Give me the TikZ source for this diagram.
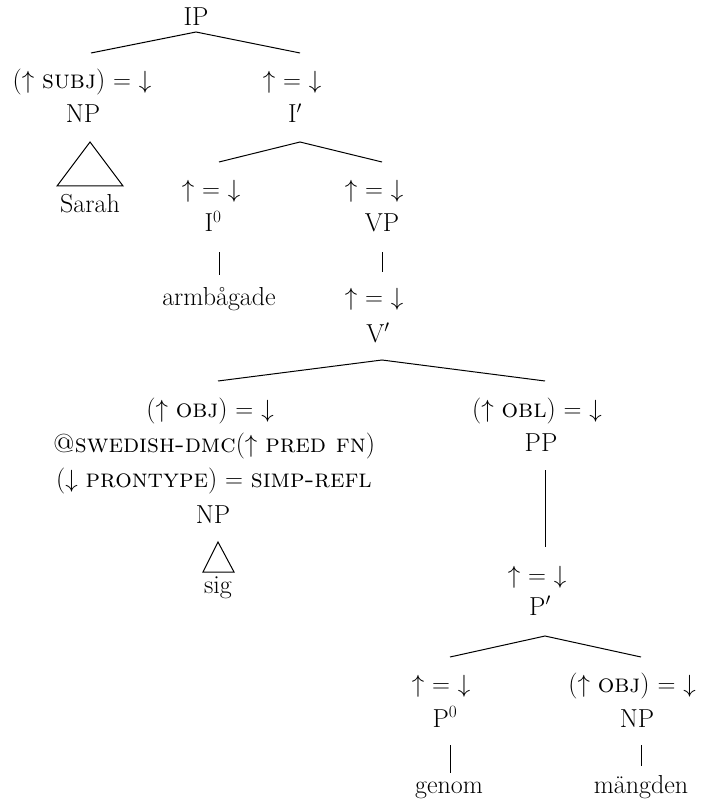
\documentclass[tikz,border=0pt]{standalone}
\tikzset{
  lbl/.style={anchor=base, inner sep=0pt, font=\fontsize{26}{30}\selectfont},
  edge/.style={line width=1pt},
  tri/.style={line width=1pt, line join=miter}
}
\newcommand{\ueqd}{\(\uparrow\) \(=\) \(\downarrow\)}
\begin{document}
\begin{tikzpicture}[x=1pt,y=-1pt]
\useasboundingbox (0,0) rectangle (701,802);
% top
\node[lbl] (IP) at (196,26) {IP};
\coordinate (IPb) at (196,32);
\coordinate (subjt) at (91,53);
\coordinate (ibart) at (300,53);
\node[lbl] (subj) at (82,89) {(\(\uparrow\)~\textsc{subj}) \(=\) \(\downarrow\)};
\node[lbl] (ibarann) at (292,89) {\ueqd};
\node[lbl] (NP1) at (83,123) {NP};
\node[lbl] (Ibar) at (295,123) {I\('\)};
\coordinate (tri1a) at (90,142);
\coordinate (tri1l) at (57,186);
\coordinate (tri1r) at (123,186);
\node[lbl] (Sarah) at (90,212) {Sarah};
% I'
\coordinate (Ibarb) at (300,142);
\coordinate (I0t) at (219,162);
\coordinate (VPt) at (382,162);
\node[lbl] (I0ann) at (211,198) {\ueqd};
\node[lbl] (VPann) at (374,198) {\ueqd};
\node[lbl] (I0) at (213,232) {I\(^{0}\)};
\node[lbl] (VP) at (382,232) {VP};
\coordinate (I0b) at (219,252);
\coordinate (armt) at (219,275);
\coordinate (VPb) at (382,252);
\coordinate (Vbart) at (382,272);
\node[lbl] (arm) at (219,305) {armbågade};
\node[lbl] (Vbarann) at (374,305) {\ueqd};
\node[lbl] (Vbar) at (378,342) {V\('\)};
% V'
\coordinate (Vbarb) at (382,360);
\coordinate (objt) at (218,381);
\coordinate (oblt) at (545,381);
\node[lbl] (obj) at (210,417) {(\(\uparrow\)~\textsc{obj}) \(=\) \(\downarrow\)};
\node[lbl] (dmc) at (214,452) {\textsc{@swedish-dmc}(\(\uparrow\)~\textsc{pred fn})};
\node[lbl] (pron) at (214,487) {(\(\downarrow\)~\textsc{prontype}) \(=\) \textsc{simp-refl}};
\node[lbl] (NP2) at (213,523) {NP};
\coordinate (tri2a) at (218,542);
\coordinate (tri2l) at (203,572);
\coordinate (tri2r) at (234,572);
\node[lbl] (sig) at (218,593) {sig};
\node[lbl] (obl) at (537,417) {(\(\uparrow\)~\textsc{obl}) \(=\) \(\downarrow\)};
\node[lbl] (PP) at (541,451) {PP};
\coordinate (PPb) at (545,470);
\coordinate (Pbart) at (545,547);
\node[lbl] (Pbarann) at (537,583) {\ueqd};
\node[lbl] (Pbar) at (540,615) {P\('\)};
% P'
\coordinate (Pbarb) at (545,636);
\coordinate (P0t) at (450,657);
\coordinate (NP3t) at (641,657);
\node[lbl] (P0ann) at (441,692) {\ueqd};
\node[lbl] (NP3ann) at (632,692) {(\(\uparrow\)~\textsc{obj}) \(=\) \(\downarrow\)};
\node[lbl] (P0) at (445,727) {P\(^{0}\)};
\node[lbl] (NP3) at (637,727) {NP};
\coordinate (P0b) at (450,745);
\coordinate (genomt) at (450,773);
\coordinate (NP3b) at (641,745);
\coordinate (mangt) at (641,766);
\node[lbl] (genom) at (449,793) {genom};
\node[lbl] (mang) at (641,793) {mängden};
% edges
\draw[edge] (subjt) -- (IPb) -- (ibart);
\draw[tri] (tri1a) -- (tri1l) -- (tri1r) -- cycle;
\draw[edge] (I0t) -- (Ibarb) -- (VPt);
\draw[edge] (I0b) -- (armt);
\draw[edge] (VPb) -- (Vbart);
\draw[edge] (objt) -- (Vbarb) -- (oblt);
\draw[tri] (tri2a) -- (tri2l) -- (tri2r) -- cycle;
\draw[edge] (PPb) -- (Pbart);
\draw[edge] (P0t) -- (Pbarb) -- (NP3t);
\draw[edge] (P0b) -- (genomt);
\draw[edge] (NP3b) -- (mangt);
\end{tikzpicture}
\end{document}
